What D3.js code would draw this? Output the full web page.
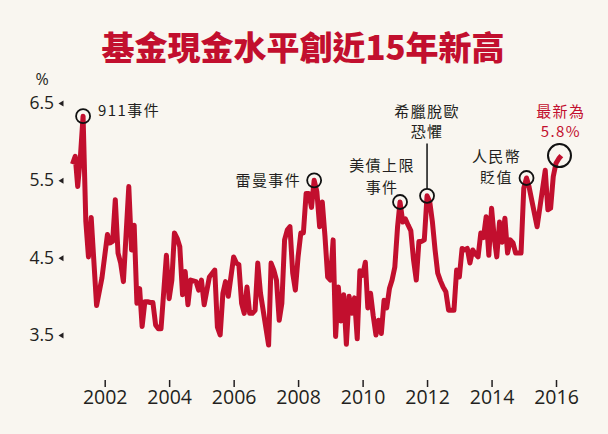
<!DOCTYPE html>
<html><head><meta charset="utf-8">
<script src="https://cdn.jsdelivr.net/npm/d3@7"></script>
<style>
html,body{margin:0;padding:0;background:#f9f6f0;}
svg{display:block;}
</style></head><body>
<svg id="chart" width="608" height="434"></svg>
<script>
// ---- data ----
const months = [
"2001-01","2001-02","2001-03","2001-04","2001-05","2001-06","2001-07","2001-08","2001-10","2001-12",
"2002-02","2002-03","2002-04","2002-05","2002-06","2002-07","2002-08","2002-10","2002-11","2002-12",
"2003-01","2003-02","2003-03","2003-04","2003-05","2003-06","2003-07","2003-08","2003-09","2003-10","2003-12",
"2004-01","2004-02","2004-03","2004-04","2004-05","2004-06","2004-07","2004-08","2004-09","2004-11","2004-12",
"2005-01","2005-02","2005-04","2005-06","2005-07","2005-08","2005-09","2005-10","2005-11",
"2006-01","2006-02","2006-03","2006-04","2006-05","2006-06","2006-07","2006-08","2006-09","2006-10","2006-11",
"2007-02","2007-03","2007-04","2007-05","2007-06","2007-07","2007-08","2007-09","2007-10","2007-11","2007-12",
"2008-01","2008-02","2008-03","2008-04","2008-05","2008-06","2008-07","2008-08","2008-09","2008-10","2008-11","2008-12",
"2009-01","2009-02","2009-03","2009-04","2009-05","2009-06","2009-07","2009-08","2009-09","2009-10","2009-11","2009-12",
"2010-01","2010-02","2010-03","2010-04","2010-05","2010-06","2010-07","2010-08","2010-09","2010-10","2010-11","2010-12",
"2011-01","2011-02","2011-03","2011-04","2011-05","2011-06","2011-07","2011-08","2011-09","2011-10","2011-11","2011-12",
"2012-01","2012-02","2012-03","2012-04","2012-05","2012-06","2012-07","2012-08","2012-09","2012-10","2012-11","2012-12",
"2013-01","2013-02","2013-03","2013-04","2013-05","2013-06","2013-07","2013-08","2013-09","2013-10","2013-11","2013-12",
"2014-01","2014-02","2014-03","2014-04","2014-05","2014-06","2014-07","2014-08","2014-09","2014-10","2014-11","2014-12",
"2015-01","2015-02","2015-03","2015-06","2015-09","2015-10","2015-11","2015-12",
"2016-01","2016-02","2016-03"];
const cashPct = [
5.71,5.81,5.42,5.81,6.33,4.97,4.51,5.02,3.88,4.24,
4.80,4.69,4.71,5.25,4.56,4.43,4.19,5.42,4.60,4.92,
3.91,4.10,3.61,3.93,3.93,3.92,3.92,3.63,3.58,3.58,4.53,
3.97,4.21,4.82,4.75,4.64,4.02,4.32,3.89,4.21,4.19,4.08,
4.21,3.89,4.25,4.34,3.60,3.50,4.04,4.19,4.00,
4.51,4.43,4.41,3.91,3.78,4.12,3.78,3.78,3.82,4.43,4.04,
3.37,4.43,4.34,4.21,3.69,3.91,4.73,4.86,4.90,4.30,4.08,
4.51,4.82,4.82,5.33,5.33,5.15,5.50,5.35,4.90,5.22,4.77,4.25,
4.21,4.73,3.48,4.12,3.68,4.02,3.38,4.00,3.78,3.98,3.45,4.33,
4.27,4.44,3.85,4.04,3.75,3.50,3.69,3.52,3.95,3.85,4.10,4.21,
4.38,4.90,5.22,4.96,5.00,4.92,4.85,4.47,4.21,4.71,4.71,4.73,
5.30,5.22,4.97,4.60,4.30,4.20,4.12,4.06,3.82,3.82,3.82,4.34,
4.25,4.62,4.60,4.62,4.43,4.60,4.55,4.51,4.82,4.76,5.03,4.53,
5.14,4.75,4.51,4.96,4.70,5.01,4.56,4.73,4.69,4.56,4.56,4.56,
5.40,5.53,5.42,4.90,5.63,5.12,5.14,5.55,
5.72,5.78,5.82];
const yTicks = [3.5, 4.5, 5.5, 6.5];
const xTickYears = [2002, 2004, 2006, 2008, 2010, 2012, 2014, 2016];
const eventMonths = ["2001-05", "2008-07", "2011-03", "2012-01", "2015-02", "2016-03"];
const eventLabels = [["911事件"], ["雷曼事件"], ["美債上限", "事件"], ["希臘脫歐", "恐懼"], ["人民幣", "貶值"], ["最新為", "5.8%"]];
const titleText = "基金現金水平創近15年新高";
const unitText = "%";

// ---- drawing ----
const parse = d3.timeParse("%Y-%m");
const data = months.map((m, i) => ({ key: m, date: parse(m), v: cashPct[i] }));
const svg = d3.select("#chart");
const RED = "#c20f2e", INK = "#231f20";
const LATIN = "'Open Sans', 'Noto Sans', sans-serif";
const CJK = "'Noto Sans CJK TC', 'Noto Sans CJK SC', sans-serif";

svg.append("rect").attr("width", 608).attr("height", 434).attr("fill", "#f9f6f0");

const x = d3.scaleTime()
  .domain([new Date(2002, 0, 1), new Date(2016, 0, 1)])
  .range([104.7, 556]);
const y = d3.scaleLinear().domain([3.5, 6.5]).range([335, 103]);

// title
svg.append("text").attr("x", 303).attr("y", 60).attr("text-anchor", "middle")
  .attr("font-family", CJK).attr("font-weight", 900).attr("font-size", 33)
  .attr("fill", RED).text(titleText);

// y axis
const gy = svg.append("g").attr("transform", "translate(64,0)")
  .call(d3.axisLeft(y).tickValues(yTicks).tickSize(0).tickPadding(10).tickFormat(d3.format(".1f")));
gy.select(".domain").remove();
gy.selectAll("text").attr("font-family", LATIN).attr("font-size", 17.5).attr("fill", INK);
gy.selectAll(".tick").append("path").attr("d", "M-5.5,0L-0.5,-3L-0.5,3Z").attr("fill", INK);
svg.append("text").attr("x", 42).attr("y", 85).attr("text-anchor", "middle")
  .attr("font-family", LATIN).attr("font-size", 16).attr("fill", INK).text(unitText);

// x axis
const gx = svg.append("g").attr("transform", "translate(0,380)")
  .call(d3.axisBottom(x).tickValues(xTickYears.map(yr => new Date(yr, 0, 1)))
    .tickSize(7).tickPadding(3).tickFormat(d3.timeFormat("%Y")));
gx.select(".domain").remove();
gx.selectAll("line").attr("stroke", INK).attr("stroke-width", 1.5);
gx.selectAll("text").attr("font-family", LATIN).attr("font-size", 19.5).attr("fill", INK);

// line
svg.append("path").datum(data)
  .attr("d", d3.line().x(d => x(d.date)).y(d => y(d.v)))
  .attr("fill", "none").attr("stroke", RED).attr("stroke-width", 5)
  .attr("stroke-linejoin", "round");

// annotations
const evPts = eventMonths.map(m => data.find(d => d.key === m));
const layout = [
  { anchor: "start",  dx: 15,   dy: [-0.4],         r: 7 },
  { anchor: "end",    dx: -13,  dy: [5.4],          r: 7 },
  { anchor: "middle", dx: -18,  dy: [-30.8, -9.3],  r: 7 },
  { anchor: "middle", dx: 0,    dy: [-78.9, -58.4], r: 7, leader: true },
  { anchor: "middle", dx: -30,  dy: [-16, 5.2],     r: 7 },
  { anchor: "middle", dx: -0.5, dy: [-38.8, -18.6], r: 11.5, red: true, cdx: -1.8 }
];
evPts.forEach((p, i) => {
  const L = layout[i];
  const cx = x(p.date) + (L.cdx || 0), cy = y(p.v);
  svg.append("circle").attr("cx", cx).attr("cy", cy).attr("r", L.r)
    .attr("fill", "none").attr("stroke", "#111").attr("stroke-width", L.red ? 2 : 1.8);
  if (L.leader) {
    svg.append("line").attr("x1", cx).attr("x2", cx)
      .attr("y1", cy + L.dy[1] + 6).attr("y2", cy - L.r)
      .attr("stroke", "#111").attr("stroke-width", 1.5);
  }
  eventLabels[i].forEach((t, j) => {
    svg.append("text").attr("x", x(p.date) + L.dx).attr("y", cy + L.dy[j])
      .attr("text-anchor", L.anchor)
      .attr("font-family", CJK).attr("font-size", 15).attr("letter-spacing", 1.4)
      .attr("fill", L.red ? RED : INK).text(t);
  });
});
</script>
</body></html>
